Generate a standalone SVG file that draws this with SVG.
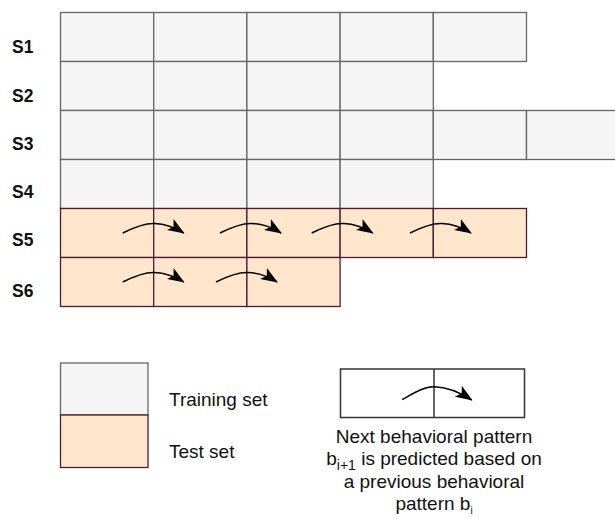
<svg xmlns="http://www.w3.org/2000/svg" width="615" height="519" viewBox="0 0 615 519">
<defs>
<style>
.tr{fill:#f5f5f5;stroke:#666666;stroke-width:1.3}
.te{fill:#ffe6cc;stroke:#4d1a33;stroke-width:1.3}
.lbl{font-family:"Liberation Sans",Arial,sans-serif;font-weight:bold;font-size:17.5px;fill:#111111}
.txt{font-family:"Liberation Sans",Arial,sans-serif;font-size:19px;fill:#111111}
.arr{fill:none;stroke:#000;stroke-width:1.5;marker-end:url(#ah)}
</style>
<marker id="ah" viewBox="0 0 17 13" refX="16" refY="6.5" markerWidth="17" markerHeight="13" markerUnits="userSpaceOnUse" orient="auto">
<path d="M0,0 L17,6.5 L0,13 L4,6.5 Z" fill="#000"/>
</marker>
<path id="a" class="arr" d="M0,0 C10,-5 22,-10 32,-9.5 C44,-9 53,-5 61,0"/>
</defs>
<g id="labels">
<text class="lbl" x="12" y="53">S1</text>
<text class="lbl" x="12" y="102">S2</text>
<text class="lbl" x="12" y="150">S3</text>
<text class="lbl" x="12" y="198">S4</text>
<text class="lbl" x="12" y="246">S5</text>
<text class="lbl" x="12" y="297">S6</text>
</g>
<g id="S1">
<rect class="tr" x="60.5" y="12.5" width="93.2" height="49"/>
<rect class="tr" x="153.7" y="12.5" width="93.2" height="49"/>
<rect class="tr" x="246.9" y="12.5" width="93.2" height="49"/>
<rect class="tr" x="340.1" y="12.5" width="93.2" height="49"/>
<rect class="tr" x="433.3" y="12.5" width="93.2" height="49"/>
</g>
<g id="S2">
<rect class="tr" x="60.5" y="61.5" width="93.2" height="49"/>
<rect class="tr" x="153.7" y="61.5" width="93.2" height="49"/>
<rect class="tr" x="246.9" y="61.5" width="93.2" height="49"/>
<rect class="tr" x="340.1" y="61.5" width="93.2" height="49"/>
</g>
<g id="S3">
<rect class="tr" x="60.5" y="110.5" width="93.2" height="49"/>
<rect class="tr" x="153.7" y="110.5" width="93.2" height="49"/>
<rect class="tr" x="246.9" y="110.5" width="93.2" height="49"/>
<rect class="tr" x="340.1" y="110.5" width="93.2" height="49"/>
<rect class="tr" x="433.3" y="110.5" width="93.2" height="49"/>
<rect class="tr" x="526.5" y="110.5" width="93.2" height="49"/>
</g>
<g id="S4">
<rect class="tr" x="60.5" y="159.5" width="93.2" height="49"/>
<rect class="tr" x="153.7" y="159.5" width="93.2" height="49"/>
<rect class="tr" x="246.9" y="159.5" width="93.2" height="49"/>
<rect class="tr" x="340.1" y="159.5" width="93.2" height="49"/>
</g>
<g id="S5">
<rect class="te" x="60.5" y="208.5" width="93.2" height="49"/>
<rect class="te" x="153.7" y="208.5" width="93.2" height="49"/>
<rect class="te" x="246.9" y="208.5" width="93.2" height="49"/>
<rect class="te" x="340.1" y="208.5" width="93.2" height="49"/>
<rect class="te" x="433.3" y="208.5" width="93.2" height="49"/>
</g>
<g id="S6">
<rect class="te" x="60.5" y="257.5" width="93.2" height="49"/>
<rect class="te" x="153.7" y="257.5" width="93.2" height="49"/>
<rect class="te" x="246.9" y="257.5" width="93.2" height="49"/>
</g>
<g id="legend-training">
<rect class="tr" x="60.5" y="363" width="87.5" height="52"/>
<text class="txt" x="169" y="406">Training set</text>
</g>
<g id="legend-test">
<rect class="te" x="60.5" y="415" width="87.5" height="52.5"/>
<text class="txt" x="169" y="458">Test set</text>
</g>
<g id="legend-prediction">
<rect x="340.5" y="369" width="184" height="48.5" fill="#ffffff" stroke="#333333" stroke-width="1.5"/>
<line x1="434" y1="369" x2="434" y2="417.5" stroke="#333333" stroke-width="1.5"/>
<text class="txt" text-anchor="middle" x="434" y="443">Next behavioral pattern</text>
<text class="txt" text-anchor="middle" x="434" y="465">b<tspan font-size="14" dy="5">i+1</tspan><tspan dy="-5"> is predicted based on</tspan></text>
<text class="txt" text-anchor="middle" x="434" y="488">a previous behavioral</text>
<text class="txt" text-anchor="middle" x="434" y="510">pattern b<tspan font-size="10" dy="4">i</tspan></text>
</g>
<g id="connectors">
<use href="#a" x="122.7" y="233"/>
<use href="#a" x="220" y="233"/>
<use href="#a" x="311.7" y="233"/>
<use href="#a" x="410" y="233"/>
<use href="#a" x="122.7" y="282"/>
<use href="#a" x="216" y="282"/>
<path class="arr" d="M402.3,399.5 C414,393 424,386.5 434,386.7 C448,387 461,393 471.7,400"/>
</g>
</svg>
